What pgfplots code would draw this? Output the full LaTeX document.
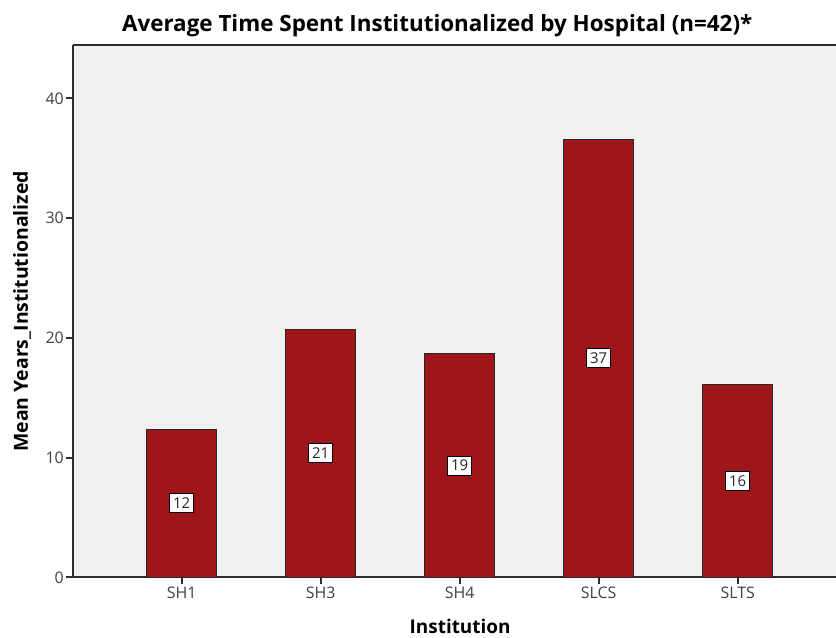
\documentclass[border=0pt]{standalone}
\usepackage{fontspec}
\setmainfont{Open Sans}
\usepackage{pgfplots}
\pgfplotsset{compat=1.18}
\definecolor{barred}{RGB}{158,21,26}
\definecolor{panel}{RGB}{240,240,240}
\definecolor{inkgray}{RGB}{45,45,45}

\begin{document}
\begin{tikzpicture}
\useasboundingbox (0,0) rectangle (836bp,638bp);
\begin{axis}[
  at={(73.3bp,60.7bp)}, anchor=south west,
  scale only axis, width=764.5bp, height=532bp,
  xmin=-0.78, xmax=4.72, ymin=0, ymax=44.43,
  axis background/.style={fill=panel},
  axis lines*=left,
  axis line style={-, draw=inkgray, line width=1.6bp},
  xtick={0,1,2,3,4},
  xticklabels={SH1,SH3,SH4,SLCS,SLTS},
  ytick={0,10,20,30,40},
  tick align=outside,
  major tick length=7bp,
  every tick/.style={draw=inkgray, line width=2bp},
  /pgf/number format/assume math mode=true,
  ticklabel style={font=\fontsize{16}{18}\selectfont, text=black!75},
  yticklabel style={xshift=1bp},
  xticklabel style={yshift=1bp},
  title={Average Time Spent Institutionalized by Hospital (n=42)*},
  title style={font=\bfseries\fontsize{22.5}{26}\selectfont,
    at={(axis description cs:0.476,1)}, anchor=south, yshift=-1bp},
  xlabel={Institution},
  xlabel style={font=\bfseries\fontsize{19}{22}\selectfont,
    at={(axis description cs:0.506,-0.093)}, anchor=center},
  ylabel={Mean Years\_Institutionalized},
  ylabel style={font=\bfseries\fontsize{19.5}{22}\selectfont,
    at={(axis description cs:-0.067,0.5)}, anchor=center, rotate=0},
  clip=false,
]
% top edge of the plot frame
\draw[inkgray, line width=1.6bp] (rel axis cs:0,1) -- (rel axis cs:1.01,1);
% bars: mean years per institution
\addplot[ybar, bar width=0.504, fill=barred, draw=black!85, line width=1bp]
  coordinates {(0,12.38) (1,20.73) (2,18.65) (3,36.55) (4,16.06)};
% rounded means printed at mid-height of each bar
\addplot[draw=none, nodes near coords, point meta=explicit symbolic,
  every node near coord/.append style={anchor=center, fill=white, draw=black,
    line width=0.9bp, inner xsep=3.5bp, inner ysep=4bp, text=black!85,
    font=\fontsize{15}{17}\selectfont}]
  table[meta=lab] {
x y lab
0 6.19 12
1 10.37 21
2 9.33 19
3 18.28 37
4 8.03 16
};
\end{axis}
\end{tikzpicture}
\end{document}
